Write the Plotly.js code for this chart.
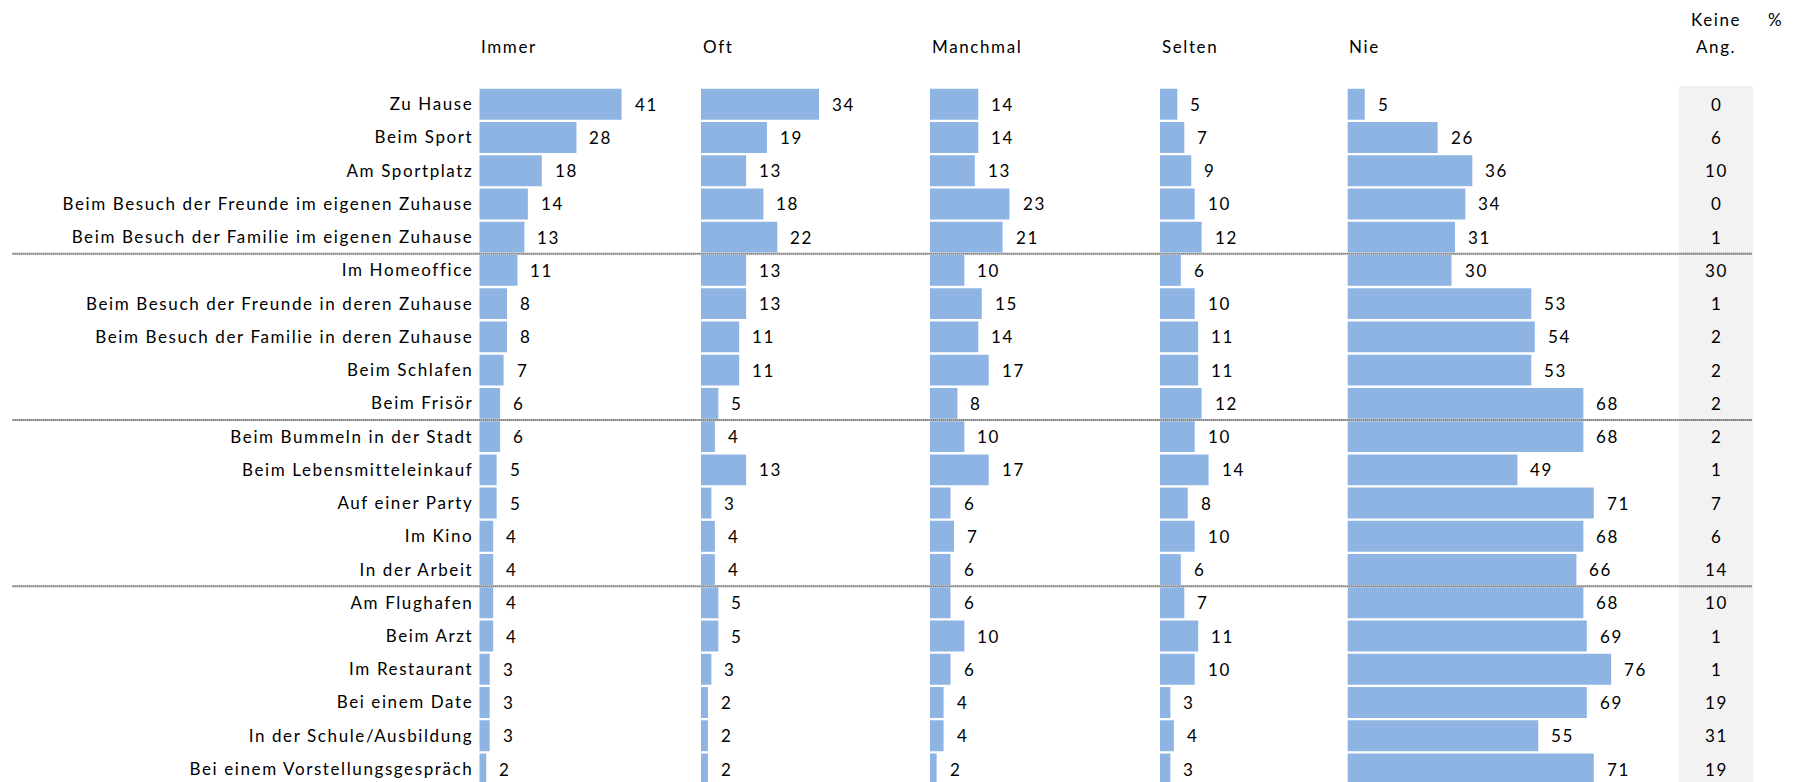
<!DOCTYPE html>
<html>
<head>
<meta charset="utf-8">
<script src="https://cdn.plot.ly/plotly-3.0.1.min.js"></script>
<style>
html,body{margin:0;padding:0;background:#fff;}
#chart{width:1796px;height:782px;}
text{letter-spacing:1.6px;}
</style>
</head>
<body>
<div id="chart"></div>
<script>
// ---------- data ----------
const categories = [
  "Zu Hause",
  "Beim Sport",
  "Am Sportplatz",
  "Beim Besuch der Freunde im eigenen Zuhause",
  "Beim Besuch der Familie im eigenen Zuhause",
  "Im Homeoffice",
  "Beim Besuch der Freunde in deren Zuhause",
  "Beim Besuch der Familie in deren Zuhause",
  "Beim Schlafen",
  "Beim Frisör",
  "Beim Bummeln in der Stadt",
  "Beim Lebensmitteleinkauf",
  "Auf einer Party",
  "Im Kino",
  "In der Arbeit",
  "Am Flughafen",
  "Beim Arzt",
  "Im Restaurant",
  "Bei einem Date",
  "In der Schule/Ausbildung",
  "Bei einem Vorstellungsgespräch"
];
const seriesNames = ["Immer", "Oft", "Manchmal", "Selten", "Nie"];
const immer    = [41, 28, 18, 14, 13, 11, 8, 8, 7, 6, 6, 5, 5, 4, 4, 4, 4, 3, 3, 3, 2];
const oft      = [34, 19, 13, 18, 22, 13, 13, 11, 11, 5, 4, 13, 3, 4, 4, 5, 5, 3, 2, 2, 2];
const manchmal = [14, 14, 13, 23, 21, 10, 15, 14, 17, 8, 10, 17, 6, 7, 6, 6, 10, 6, 4, 4, 2];
const selten   = [5, 7, 9, 10, 12, 6, 10, 11, 11, 12, 10, 14, 8, 10, 6, 7, 11, 10, 3, 4, 3];
const nie      = [5, 26, 36, 34, 31, 30, 53, 54, 53, 68, 68, 49, 71, 68, 66, 68, 69, 76, 69, 55, 71];
const keineAng = [0, 6, 10, 0, 1, 30, 1, 2, 2, 2, 2, 1, 7, 6, 14, 10, 1, 1, 19, 31, 19];
const keineLabel = ["Keine", "Ang."];
const unitLabel = "%";
const groupBreaksAfter = [4, 9, 14];

// ---------- layout constants (pixels) ----------
const W = 1796, H = 782;
const seriesData = [immer, oft, manchmal, selten, nie];
const panelStart = [479.3, 701, 929.7, 1160, 1347.4];
const panelEnd   = [690, 920, 1150, 1340, 1670];
const pxPerUnit = 3.47;
const rowTop = 104.2, rowPitch = 33.24;
const barColor = "#8EB4E3";
const FONT = {family: "Lato, 'Liberation Sans', Arial, sans-serif", size: 17, color: "#000"};
const px = v => v / W;
const py = v => 1 - v / H;

const traces = [];
const layout = {
  width: W, height: H,
  margin: {l: 0, r: 0, t: 0, b: 0, pad: 0},
  paper_bgcolor: "#fff", plot_bgcolor: "rgba(0,0,0,0)",
  showlegend: false,
  bargap: 0.07,
  font: FONT,
  hovermode: false,
  annotations: [],
  shapes: []
};

layout.yaxis = {
  type: "category",
  categoryorder: "array",
  categoryarray: categories,
  range: [(H - rowTop) / rowPitch, -rowTop / rowPitch],
  domain: [0, 1],
  anchor: "x",
  showgrid: false, zeroline: false, showline: false,
  ticks: "", ticklabelstandoff: 5,
  tickfont: FONT,
  automargin: false,
  fixedrange: true
};

seriesData.forEach((vals, k) => {
  const axName = k === 0 ? "x" : "x" + (k + 1);
  const layoutName = k === 0 ? "xaxis" : "xaxis" + (k + 1);
  traces.push({
    type: "bar", orientation: "h",
    x: vals, y: categories,
    xaxis: axName, yaxis: "y",
    marker: {color: barColor, line: {width: 0}},
    name: seriesNames[k],
    hoverinfo: "skip"
  });
  layout[layoutName] = {
    domain: [px(panelStart[k]), px(panelEnd[k])],
    range: [0, (panelEnd[k] - panelStart[k]) / pxPerUnit],
    anchor: "y",
    visible: false,
    fixedrange: true
  };
  // value labels
  vals.forEach((v, i) => {
    layout.annotations.push({
      xref: axName, yref: "y", x: v, y: i,
      text: String(v), showarrow: false,
      xanchor: "left", yanchor: "middle", xshift: 11,
      font: FONT
    });
  });
  // column header
  layout.annotations.push({
    xref: "paper", yref: "paper",
    x: px(panelStart[k]), y: py(46.7),
    text: seriesNames[k], showarrow: false,
    xanchor: "left", yanchor: "middle", font: FONT
  });
});

// "Keine Ang." column
const keineX = 1716;
layout.shapes.push({
  type: "rect", xref: "paper", yref: "paper",
  x0: px(1679), x1: px(1753), y0: 0, y1: py(86),
  fillcolor: "#F2F2F2", line: {width: 0}, layer: "below"
});
keineAng.forEach((v, i) => {
  layout.annotations.push({
    xref: "paper", yref: "y", x: px(keineX), y: i,
    text: String(v), showarrow: false,
    xanchor: "center", yanchor: "middle", font: FONT
  });
});
layout.annotations.push({
  xref: "paper", yref: "paper", x: px(keineX), y: py(19.3),
  text: keineLabel[0], showarrow: false, xanchor: "center", yanchor: "middle", font: FONT
});
layout.annotations.push({
  xref: "paper", yref: "paper", x: px(keineX), y: py(46.7),
  text: keineLabel[1], showarrow: false, xanchor: "center", yanchor: "middle", font: FONT
});
layout.annotations.push({
  xref: "paper", yref: "paper", x: px(1775), y: py(19.3),
  text: unitLabel, showarrow: false, xanchor: "center", yanchor: "middle", font: FONT
});

// group separators
groupBreaksAfter.forEach(i => {
  layout.shapes.push({
    type: "line", xref: "paper", yref: "y",
    x0: px(12.6), x1: px(1752.6), y0: i + 0.5, y1: i + 0.5,
    line: {color: "#333333", width: 2, dash: "1px,1px"},
    layer: "below"
  });
});

Plotly.newPlot("chart", traces, layout, {staticPlot: true, displayModeBar: false});
</script>
</body>
</html>
